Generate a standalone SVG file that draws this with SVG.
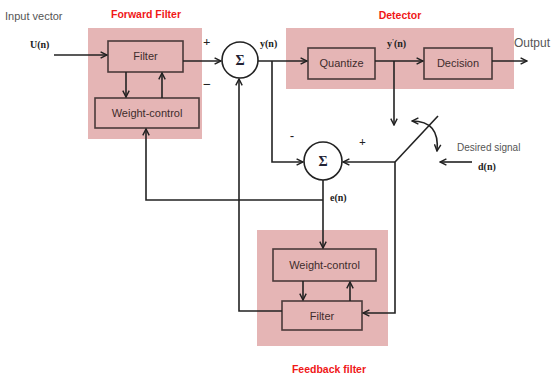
<svg xmlns="http://www.w3.org/2000/svg" width="551" height="378" viewBox="0 0 551 378">
<style>
.pink{fill:#e5b5b5}
.box{fill:#e5b5b5;stroke:#4a3a3a;stroke-width:1.6}
.bt{font-family:"Liberation Sans",Arial,sans-serif;font-size:11px;fill:#3e2c2c;text-anchor:middle}
.red{font-family:"Liberation Sans",Arial,sans-serif;font-size:10.5px;font-weight:bold;fill:#f01818;text-anchor:middle}
.lbl{font-family:"Liberation Serif","Times New Roman",serif;font-size:10px;font-weight:bold;fill:#222}
.gray{font-family:"Liberation Sans",Arial,sans-serif;font-size:11px;fill:#555}
.ln{fill:none;stroke:#222;stroke-width:1.6}
.arr{marker-end:url(#ah)}
.sum{fill:#fff;stroke:#222;stroke-width:1.6}
.sig{font-family:"Liberation Serif","Times New Roman",serif;font-size:14px;font-weight:bold;fill:#223;text-anchor:middle}
</style>
<defs>
<marker id="ah" viewBox="0 0 10 10" refX="9" refY="5" markerWidth="8" markerHeight="8" orient="auto-start-reverse" markerUnits="userSpaceOnUse">
<path d="M1,1 L9,5 L1,9" fill="none" stroke="#222" stroke-width="1.8"/>
</marker>
</defs>
<text class="gray" x="5" y="20">Input vector</text>
<text class="lbl" x="30" y="48">U(n)</text>
<g id="forward-filter">
<rect class="pink" x="88" y="28" width="114" height="111"/>
<text class="red" x="146" y="18">Forward Filter</text>
</g>
<g id="ff-filter"><rect class="box" x="108" y="41" width="75" height="31"/><text class="bt" x="145.5" y="60">Filter</text></g>
<g id="ff-weight"><rect class="box" x="95" y="98" width="104" height="30"/><text class="bt" x="147" y="117">Weight-control</text></g>
<g id="sum1"><circle class="sum" cx="240" cy="60" r="18"/><text class="sig" x="240" y="65">Σ</text></g>
<text class="lbl" x="203" y="46" style="font-size:13px">+</text>
<text class="lbl" x="203" y="89" style="font-size:14px">−</text>
<text class="lbl" x="260" y="47">y(n)</text>
<g id="detector">
<rect class="pink" x="286" y="28" width="228" height="61"/>
<text class="red" x="400" y="19">Detector</text>
</g>
<g id="quantize"><rect class="box" x="308" y="48" width="67" height="31"/><text class="bt" x="341.5" y="67">Quantize</text></g>
<g id="decision"><rect class="box" x="424" y="48" width="68" height="31"/><text class="bt" x="458" y="67">Decision</text></g>
<text class="lbl" x="387" y="47">y<tspan dy="-4" style="font-size:7px">'</tspan><tspan dy="4">(n)</tspan></text>
<text class="gray" x="514" y="47" style="font-size:12.5px" textLength="36" lengthAdjust="spacingAndGlyphs">Output</text>
<g id="sum2"><circle class="sum" cx="323" cy="161" r="19"/><text class="sig" x="323" y="166">Σ</text></g>
<text class="lbl" x="290" y="140" style="font-size:12px">-</text>
<text class="lbl" x="359" y="146" style="font-size:12px">+</text>
<text class="lbl" x="330" y="201">e(n)</text>
<text class="gray" x="457" y="151" style="font-size:10px">Desired signal</text>
<text class="lbl" x="478" y="170">d(n)</text>
<g id="feedback-filter">
<rect class="pink" x="257" y="230" width="131" height="116"/>
<text class="red" x="329" y="373">Feedback filter</text>
</g>
<g id="fb-weight"><rect class="box" x="273" y="249" width="103" height="32"/><text class="bt" x="324.5" y="269">Weight-control</text></g>
<g id="fb-filter"><rect class="box" x="282" y="301" width="80" height="29"/><text class="bt" x="322" y="320">Filter</text></g>
<g id="connectors">
<path class="ln arr" d="M54,55 H107"/>
<path class="ln arr" d="M183,61 H221"/>
<path class="ln arr" d="M126,72 V97"/>
<path class="ln arr" d="M162,98 V73"/>
<path class="ln arr" d="M258,61 H307"/>
<path class="ln arr" d="M375,61 H423"/>
<path class="ln arr" d="M492,61 H527"/>
<path class="ln arr" d="M394,61 V125"/>
<path class="ln arr" d="M272,61 V162 H303"/>
<path class="ln arr" d="M395,162 H343"/>
<path class="ln arr" d="M395,162 V313 H363"/>
<path class="ln" d="M395,162 L438,116"/>
<path class="ln arr" d="M472,162 H440"/>
<path class="ln" d="M412,121 Q440,121 437,151" marker-start="url(#ah)" marker-end="url(#ah)"/>
<path class="ln arr" d="M323,180 V248"/>
<path class="ln arr" d="M323,200 H146 V129"/>
<path class="ln arr" d="M282,311 H239 V79"/>
<path class="ln arr" d="M303,281 V300"/>
<path class="ln arr" d="M350,301 V282"/>
</g>
</svg>
